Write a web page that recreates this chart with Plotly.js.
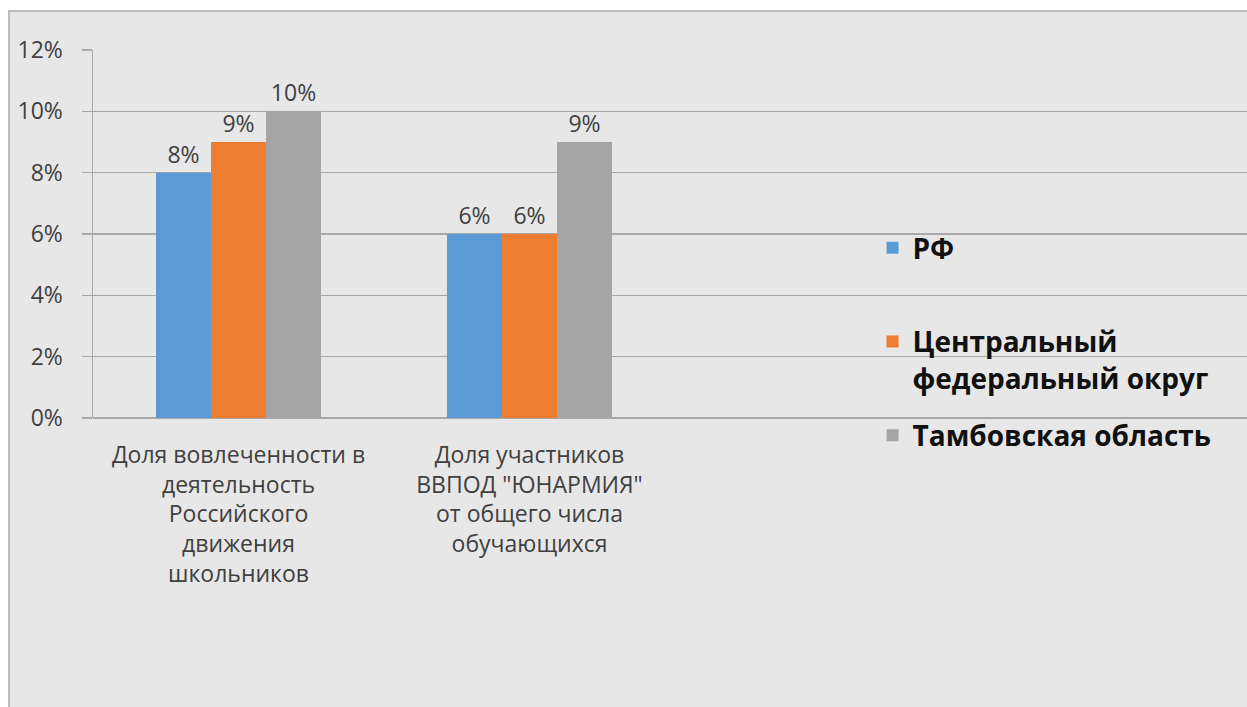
<!DOCTYPE html>
<html><head><meta charset="utf-8">
<script src="https://cdn.plot.ly/plotly-3.0.1.min.js"></script>
<style>
html,body{margin:0;padding:0;background:#ffffff;width:1247px;height:707px;overflow:hidden;}
#frame{position:absolute;left:8px;top:10px;width:1237px;height:695px;border-left:2px solid #bcbcbc;border-top:2px solid #bcbcbc;background:#e7e7e7;}
#chart{width:1237px;height:695px;}
</style></head>
<body><div id="frame"><div id="chart"></div></div>
<script>
const categories = [
  "Доля вовлеченности в<br>деятельность<br>Российского<br>движения<br>школьников",
  "Доля участников<br>ВВПОД \"ЮНАРМИЯ\"<br>от общего числа<br>обучающихся"
];
const seriesNames = ["РФ", "Центральный<br>федеральный округ", "Тамбовская область"];
const valuesRF = [8, 6];
const valuesCFO = [9, 6];
const valuesTambov = [10, 9];
const colors = ["#5b9bd5", "#ed7d31", "#a5a5a5"];
const yTicks = [0, 2, 4, 6, 8, 10, 12];

const catPos = categories.map((c, i) => i);
const allSeries = [valuesRF, valuesCFO, valuesTambov];
const traces = allSeries.map((vals, i) => ({
  type: 'bar',
  name: (i === 0 ? seriesNames[i] + '<br>&nbsp;' : seriesNames[i]),
  x: catPos,
  y: vals,
  marker: {color: colors[i]},
  text: vals.map(v => v + '%'),
  textposition: 'outside',
  cliponaxis: false,
  textfont: {family: 'Open Sans', size: 23, color: '#404040'},
  legendgroup: 'g' + i,
  hoverinfo: 'skip'
}));

const layout = {
  width: 1237, height: 695,
  paper_bgcolor: '#e7e7e7', plot_bgcolor: 'rgba(0,0,0,0)',
  margin: {l: 83, r: 0, t: 38, b: 289, pad: 0},
  barmode: 'group', bargap: 0.433, bargroupgap: 0,
  showlegend: true,
  legend: {
    x: 0.6755, y: 0.53, xanchor: 'left', yanchor: 'top',
    bgcolor: 'rgba(0,0,0,0)', borderwidth: 0,
    valign: 'top', tracegroupgap: 18, traceorder: 'grouped',
    font: {family: 'Open Sans', size: 28, color: '#111111', weight: 'bold'}
  },
  xaxis: {
    range: [-0.5, -0.5 + 1154 / 291],
    tickmode: 'array', tickvals: catPos, ticktext: categories,
    ticks: 'outside', ticklen: 16, tickcolor: 'rgba(0,0,0,0)',
    showgrid: false, zeroline: false,
    showline: false,
    tickfont: {family: 'Open Sans', size: 23, color: '#404040'},
    fixedrange: true
  },
  yaxis: {
    range: [0, 12], tickmode: 'array', tickvals: yTicks,
    ticktext: yTicks.map(v => v + '%'),
    showgrid: true, gridcolor: '#a8a8a8', gridwidth: 1.5,
    zeroline: true, zerolinecolor: '#a8a8a8', zerolinewidth: 1.5,
    showline: true, linecolor: '#a8a8a8', linewidth: 1.5,
    ticks: 'outside', ticklen: 10, tickcolor: '#a8a8a8', tickwidth: 1.5,
    ticklabelstandoff: 14,
    tickfont: {family: 'Open Sans', size: 23, color: '#404040'},
    fixedrange: true
  }
};
Plotly.newPlot('chart', traces, layout, {displayModeBar: false, staticPlot: true});
</script></body></html>
